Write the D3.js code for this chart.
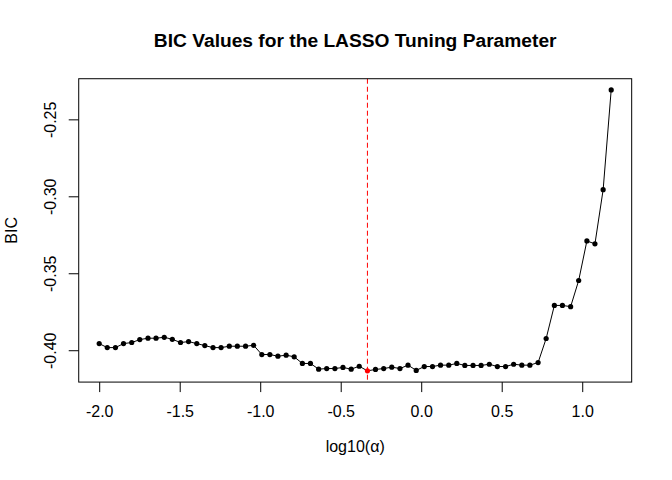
<!DOCTYPE html>
<html>
<head>
<meta charset="utf-8">
<script src="https://cdn.jsdelivr.net/npm/d3@7"></script>
<style>
  body { margin: 0; background: #ffffff; }
  text { font-family: "Liberation Sans", Arial, sans-serif; fill: #000000; }
</style>
</head>
<body>
<div id="chart"></div>
<script>
(function () {
  "use strict";

  /***** Données *****/
  var logAlpha = [
    -2.000, -1.950, -1.899, -1.849, -1.798, -1.748, -1.697, -1.647, -1.596, -1.546,
    -1.495, -1.445, -1.394, -1.344, -1.293, -1.243, -1.192, -1.142, -1.091, -1.041,
    -0.990, -0.940, -0.890, -0.839, -0.789, -0.738, -0.688, -0.637, -0.587, -0.536,
    -0.486, -0.435, -0.385, -0.334, -0.284, -0.233, -0.183, -0.132, -0.082, -0.031,
     0.019,  0.070,  0.120,  0.171,  0.221,  0.271,  0.322,  0.372,  0.423,  0.473,
     0.524,  0.574,  0.625,  0.675,  0.726,  0.776,  0.827,  0.877,  0.928,  0.978,
     1.029,  1.079,  1.130,  1.180
  ];

  var bic = [
    -0.3957, -0.3983, -0.3983, -0.3957, -0.3950, -0.3931, -0.3922, -0.3922, -0.3916, -0.3929,
    -0.3950, -0.3944, -0.3957, -0.3970, -0.3983, -0.3983, -0.3974, -0.3974, -0.3974, -0.3968,
    -0.4028, -0.4028, -0.4039, -0.4032, -0.4043, -0.4086, -0.4086, -0.4123, -0.4119, -0.4119,
    -0.4112, -0.4123, -0.4104, -0.4134, -0.4125, -0.4119, -0.4110, -0.4119, -0.4097, -0.4131,
    -0.4106, -0.4106, -0.4097, -0.4097, -0.4086, -0.4099, -0.4099, -0.4099, -0.4091, -0.4106,
    -0.4106, -0.4091, -0.4097, -0.4097, -0.4080, -0.3924, -0.3709, -0.3709, -0.3717, -0.3547,
    -0.3290, -0.3309, -0.2957, -0.2309
  ];

  var xTicks = [-2.0, -1.5, -1.0, -0.5, 0.0, 0.5, 1.0];
  var yTicks = [-0.40, -0.35, -0.30, -0.25];

  var titleText = "BIC Values for the LASSO Tuning Parameter";
  var xLabel = "log10(\u03b1)";
  var yLabel = "BIC";

  /***** Configuration *****/
  var width = 672,
      height = 480,
      lineH = 19.2;
  var margin = {
    top: 4.1 * lineH,
    right: 2.1 * lineH,
    bottom: 5.1 * lineH,
    left: 4.1 * lineH
  };
  var plotW = width - margin.left - margin.right,
      plotH = height - margin.top - margin.bottom;

  // étendue à la manière de R (4 % de chaque côté)
  function pad(ext) {
    var d = (ext[1] - ext[0]) * 0.04;
    return [ext[0] - d, ext[1] + d];
  }

  var x = d3.scaleLinear()
    .domain(pad(d3.extent(logAlpha)))
    .range([margin.left, margin.left + plotW]);

  var y = d3.scaleLinear()
    .domain(pad(d3.extent(bic)))
    .range([margin.top + plotH, margin.top]);

  var points = logAlpha.map(function (d, i) { return {x: d, y: bic[i]}; });
  var best = d3.minIndex(bic);

  /***** Création des éléments *****/
  var svg = d3.select("#chart")
    .append("svg")
    .attr("width", width)
    .attr("height", height);

  svg.append("rect")
    .attr("width", width)
    .attr("height", height)
    .attr("fill", "#ffffff");

  // axe des x
  var xAxis = svg.append("g")
    .attr("transform", "translate(0," + (margin.top + plotH) + ")")
    .call(d3.axisBottom(x)
      .tickValues(xTicks)
      .tickSize(10)
      .tickSizeOuter(0)
      .tickPadding(13.5)
      .tickFormat(function (d) { return d.toFixed(1); }));
  xAxis.select(".domain").remove();
  xAxis.selectAll("line").attr("stroke", "#000");
  xAxis.selectAll("text")
    .style("font-size", "16px")
    .attr("font-family", null);

  // axe des y
  var yAxis = svg.append("g")
    .attr("transform", "translate(" + margin.left + ",0)")
    .call(d3.axisLeft(y)
      .tickValues(yTicks)
      .tickSize(10)
      .tickSizeOuter(0)
      .tickFormat(function (d) { return d.toFixed(2); }));
  yAxis.select(".domain").remove();
  yAxis.selectAll("line").attr("stroke", "#000");
  yAxis.selectAll("text")
    .attr("x", null)
    .attr("dy", null)
    .attr("text-anchor", "middle")
    .attr("transform", "translate(" + (55.5 - margin.left) + ",0) rotate(-90)")
    .style("font-size", "16px")
    .attr("font-family", null);

  // ligne verticale au minimum
  svg.append("line")
    .attr("x1", x(logAlpha[best]))
    .attr("x2", x(logAlpha[best]))
    .attr("y1", margin.top)
    .attr("y2", margin.top + plotH)
    .attr("stroke", "#ff0000")
    .attr("stroke-width", 1)
    .attr("stroke-dasharray", "5,3");

  // courbe
  var line = d3.line()
    .x(function (d) { return x(d.x); })
    .y(function (d) { return y(d.y); });

  svg.append("path")
    .datum(points)
    .attr("d", line)
    .attr("fill", "none")
    .attr("stroke", "#000")
    .attr("stroke-width", 1);

  svg.append("g")
    .selectAll("circle")
    .data(points)
    .join("circle")
    .attr("cx", function (d) { return x(d.x); })
    .attr("cy", function (d) { return y(d.y); })
    .attr("r", 2.6)
    .attr("fill", function (d, i) { return i === best ? "#ff0000" : "#000"; });

  // cadre
  svg.append("rect")
    .attr("x", margin.left)
    .attr("y", margin.top)
    .attr("width", plotW)
    .attr("height", plotH)
    .attr("fill", "none")
    .attr("stroke", "#000")
    .attr("stroke-width", 1);

  // titres
  svg.append("text")
    .attr("x", margin.left + plotW / 2)
    .attr("y", 46.8)
    .attr("text-anchor", "middle")
    .style("font-size", "19.2px")
    .style("font-weight", "bold")
    .text(titleText);

  svg.append("text")
    .attr("x", margin.left + plotW / 2)
    .attr("y", 452)
    .attr("text-anchor", "middle")
    .style("font-size", "16px")
    .text(xLabel);

  svg.append("text")
    .attr("transform", "translate(16.7," + (margin.top + plotH / 2) + ") rotate(-90)")
    .attr("text-anchor", "middle")
    .style("font-size", "16px")
    .text(yLabel);
})();
</script>
</body>
</html>
